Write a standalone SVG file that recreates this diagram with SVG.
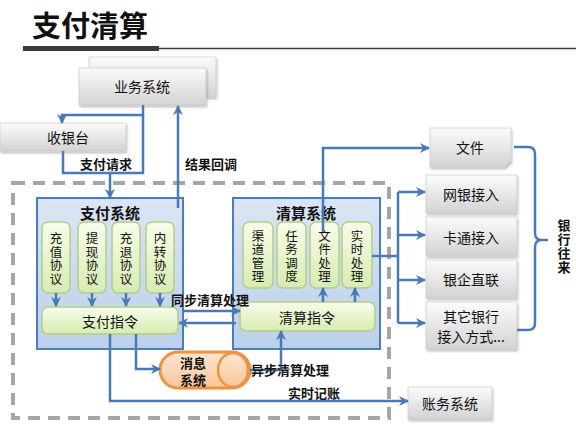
<svg xmlns="http://www.w3.org/2000/svg" width="576" height="427" viewBox="0 0 576 427">
<defs>
<linearGradient id="gGray" x1="0" y1="0" x2="0" y2="1"><stop offset="0" stop-color="#fbfbfb"/><stop offset="1" stop-color="#d3d3d3"/></linearGradient>
<linearGradient id="gBlue" x1="0" y1="0" x2="0" y2="1"><stop offset="0" stop-color="#dbe5f3"/><stop offset="1" stop-color="#bcd0ea"/></linearGradient>
<linearGradient id="gGreen" x1="0" y1="0" x2="0" y2="1"><stop offset="0" stop-color="#f8fdea"/><stop offset="1" stop-color="#d6ebb0"/></linearGradient>
<linearGradient id="gOrange" x1="0" y1="0" x2="0" y2="1"><stop offset="0" stop-color="#fde6d2"/><stop offset="1" stop-color="#f9c69a"/></linearGradient>
<filter id="sh" x="-10%" y="-10%" width="125%" height="135%"><feDropShadow dx="1" dy="2" stdDeviation="1.2" flood-color="#000" flood-opacity="0.25"/></filter>
<marker id="ar" markerUnits="userSpaceOnUse" markerWidth="12" markerHeight="12" viewBox="0 0 12 12" refX="10" refY="6" orient="auto">
<path d="M1,1 L11,6 L1,11 L4,6 z" fill="#4a7ab5"/>
</marker>
<style>
.gb{fill:url(#gGray);stroke:#c4c4c4;stroke-width:0.6;filter:url(#sh)}
.sys{fill:url(#gBlue);stroke:#4a7ebb;stroke-width:2}
.gr{fill:url(#gGreen);stroke:#b3cd8b;stroke-width:1.5}
.t{font-family:"Noto Sans CJK SC","Noto Sans",sans-serif;fill:#111;text-anchor:middle;dominant-baseline:central}
.n{font-size:14px;font-weight:400}
.b{font-size:13px;font-weight:700}
.h{font-size:15px;font-weight:700}
.v{font-size:12.5px;font-weight:400}
.c{fill:none;stroke:#4a7ab5;stroke-width:2.5}
.ca{fill:none;stroke:#4a7ab5;stroke-width:2.5;marker-end:url(#ar)}
</style>
</defs>
<rect width="576" height="427" fill="#fff"/>

<g id="title">
<text class="t" x="90" y="24" style="font-size:29px;font-weight:700">支付清算</text>
<rect x="23" y="46" width="136" height="5" fill="#3a3a3a"/>
<line x1="159" y1="48.5" x2="576" y2="48.5" stroke="#3a3a3a" stroke-width="1.5"/>
</g>

<g id="boundary">
<rect x="13" y="183" width="376" height="235" fill="none" stroke="#a6a6a6" stroke-width="4" stroke-dasharray="12 8"/>
</g>

<g id="yewu">
<rect class="gb" x="89" y="57" width="127" height="40"/>
<rect class="gb" x="79" y="68" width="127" height="37"/>
<text class="t n" x="142" y="86">业务系统</text>
</g>

<g id="shouyin">
<rect class="gb" x="0" y="123" width="126" height="28"/>
<text class="t n" x="68" y="137">收银台</text>
</g>

<g id="zhifu">
<rect class="sys" x="37" y="198" width="146" height="151"/>
<text class="t h" x="110" y="212">支付系统</text>
<rect class="gr" x="42" y="222" width="28" height="71" rx="6"/>
<rect class="gr" x="78" y="222" width="28" height="71" rx="6"/>
<rect class="gr" x="112" y="222" width="28" height="71" rx="6"/>
<rect class="gr" x="146" y="222" width="28" height="71" rx="6"/>
<g class="t v">
<text x="56" y="237.5">充</text><text x="56" y="251">值</text><text x="56" y="264.5">协</text><text x="56" y="278">议</text>
<text x="92" y="237.5">提</text><text x="92" y="251">现</text><text x="92" y="264.5">协</text><text x="92" y="278">议</text>
<text x="126" y="237.5">充</text><text x="126" y="251">退</text><text x="126" y="264.5">协</text><text x="126" y="278">议</text>
<text x="160" y="237.5">内</text><text x="160" y="251">转</text><text x="160" y="264.5">协</text><text x="160" y="278">议</text>
</g>
<rect class="gr" x="42" y="307" width="136" height="27" rx="6"/>
<text class="t n" x="110" y="320.5">支付指令</text>
</g>

<g id="qingsuan">
<rect class="sys" x="233" y="198" width="147" height="151"/>
<text class="t h" x="306" y="212">清算系统</text>
<rect class="gr" x="243" y="222" width="30" height="66" rx="6"/>
<rect class="gr" x="277" y="222" width="29" height="66" rx="6"/>
<rect class="gr" x="310" y="222" width="29" height="66" rx="6"/>
<rect class="gr" x="342" y="222" width="30" height="66" rx="6"/>
<g class="t v">
<text x="258" y="235">渠</text><text x="258" y="248.5">道</text><text x="258" y="262">管</text><text x="258" y="275.5">理</text>
<text x="291.5" y="235">任</text><text x="291.5" y="248.5">务</text><text x="291.5" y="262">调</text><text x="291.5" y="275.5">度</text>
<text x="324.5" y="235">文</text><text x="324.5" y="248.5">件</text><text x="324.5" y="262">处</text><text x="324.5" y="275.5">理</text>
<text x="357" y="235">实</text><text x="357" y="248.5">时</text><text x="357" y="262">处</text><text x="357" y="275.5">理</text>
</g>
<rect class="gr" x="240" y="302" width="135" height="29" rx="6"/>
<text class="t n" x="307" y="316.5">清算指令</text>
</g>

<g id="xiaoxi">
<rect x="160" y="352" width="90" height="36" rx="18" fill="url(#gOrange)" stroke="#f0923f" stroke-width="3"/>
<ellipse cx="233" cy="370" rx="15" ry="17" fill="url(#gOrange)" stroke="#f0923f" stroke-width="2.5"/>
<text class="t b" x="193" y="362">消息</text>
<text class="t b" x="193" y="379">系统</text>
</g>

<g id="wenjian">
<path class="gb" d="M430,128 H511 V161 L505,167 H430 Z"/>
<text class="t n" x="470" y="147">文件</text>
</g>
<g id="wangyin">
<rect class="gb" x="426" y="175" width="91" height="38"/>
<text class="t n" x="471" y="194">网银接入</text>
</g>
<g id="katong">
<rect class="gb" x="426" y="217" width="91" height="39"/>
<text class="t n" x="471" y="236.5">卡通接入</text>
</g>
<g id="yinqi">
<rect class="gb" x="426" y="260" width="91" height="38"/>
<text class="t n" x="471" y="279">银企直联</text>
</g>
<g id="qita">
<rect class="gb" x="426" y="302" width="91" height="47"/>
<text class="t n" x="471" y="316">其它银行</text>
<text class="t n" x="471" y="336">接入方式...</text>
</g>
<g id="zhangwu">
<rect class="gb" x="408" y="387" width="84" height="32"/>
<text class="t n" x="450" y="403">账务系统</text>
</g>

<g id="connectors">
<path class="ca" d="M143,105 V115 H62 V123"/>
<path class="c" d="M143,115 V173 H110"/>
<path class="ca" d="M63,151 V173 H110 V198"/>
<path class="ca" d="M178,208 V106"/>
<path class="ca" d="M56,293 V306"/>
<path class="ca" d="M92,293 V306"/>
<path class="ca" d="M126,293 V306"/>
<path class="ca" d="M160,293 V306"/>
<path class="ca" d="M183,311 H240"/>
<path class="ca" d="M236,323 H179"/>
<path class="ca" d="M136,334 V369 H160"/>
<path class="ca" d="M110,334 V401 H408"/>
<path class="ca" d="M250,370 H281 V331"/>
<path class="ca" d="M323,302 V288"/>
<path class="ca" d="M355,302 V288"/>
<path class="ca" d="M323,232 V148 H429"/>
<path class="c" d="M372,256 H398"/>
<path class="c" d="M398,192 V323"/>
<path class="ca" d="M398,192 H425"/>
<path class="ca" d="M398,235 H425"/>
<path class="ca" d="M398,280 H425"/>
<path class="ca" d="M398,323 H425"/>
<path class="c" d="M514,147 H528 Q535,147 535,154 V233 Q535,240 542,240 H548 M542,240 Q535,240 535,247 V323 Q535,330 528,330 H517"/>
</g>

<g id="labels">
<text class="t b" x="106" y="163">支付请求</text>
<text class="t b" x="211" y="163">结果回调</text>
<text class="t b" x="210" y="299">同步清算处理</text>
<text class="t b" x="290" y="369">异步清算处理</text>
<text class="t b" x="314" y="392">实时记账</text>
<g class="t b">
<text x="564" y="224">银</text><text x="564" y="238">行</text><text x="564" y="252">往</text><text x="564" y="266">来</text>
</g>
</g>
</svg>
